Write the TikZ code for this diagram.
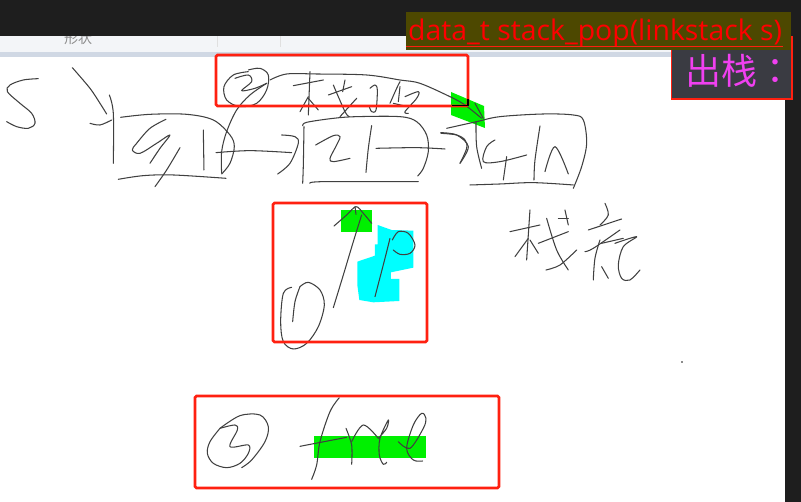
\documentclass[tikz,border=0pt]{standalone}
\usepackage{fontspec}
\setmainfont{Open Sans}
\newfontfamily\cjkfont{Noto Sans CJK JP}
\definecolor{barcol}{HTML}{1E1E1E}
\definecolor{toolcol}{HTML}{F3F5F8}
\definecolor{stripcol}{HTML}{D0D8E4}
\definecolor{olivecol}{HTML}{4D4800}
\definecolor{slatecol}{HTML}{3A3B42}
\definecolor{markred}{HTML}{FF2010}
\definecolor{pinkcol}{HTML}{F040F0}
\definecolor{greencol}{HTML}{00F000}
\definecolor{cyancol}{HTML}{00FFFF}
\usetikzlibrary{positioning}
\begin{document}
\begin{tikzpicture}[x=1pt, y=-1pt,
      ink/.style={draw=black!75, line width=1.05pt, line cap=round, line join=round},
      redbox/.style={draw=markred, line width=2.6pt, rounded corners=1.5pt},
      zoomed/.style={x=0.3333pt, y=-0.3333pt, shift={#1}}]
    \useasboundingbox (0,0) rectangle (801,502);
    \fill[white] (0,0) rectangle (801,502);
    % window
    \fill[toolcol] (0,36) rectangle (785,52);
    \fill[stripcol] (0,52) rectangle (785,57);
    \node[font=\cjkfont\fontsize{14}{14}\selectfont, text=black!45, inner sep=0pt, anchor=base west] (toollabel) at (64,44) {形状};
    \draw[black!12] (217,36) -- (217,47) (280,36) -- (280,47);
    \fill[barcol] (0,0) rectangle (801,36);
    \fill[barcol] (785,0) rectangle (801,502);
    \fill[black!45] (681,361) rectangle (683,363);
    % marker patches
    \fill[greencol] (451,92) -- (484,106) -- (485,128) -- (451,115) -- cycle;
    \fill[greencol] (341,210) rectangle (372,232);
    \fill[greencol] (314,436) rectangle (426,458);
    \begin{scope}[zoomed={(260pt,-195pt)}]
      \fill[cyancol] (353,90) -- (395,105) -- (460,107) -- (460,218) -- (393,232) -- (393,252) -- (418,252) -- (418,318) -- (340,322) -- (298,315) -- (292,270) -- (292,200) -- (345,182) -- (345,148) -- (353,148) -- cycle;
    \end{scope}
    % list, left part
    \begin{scope}[zoomed={(0pt,0pt)}]
      \foreach \stroke in {
        {(115,236) (70,240) (30,255) (22,275) (60,310) (95,340) (105,370) (85,385) (50,380) (20,365)},
        {(217,203) (270,265) (300,310) (320,342)},
        {(328,285) (340,340) (340,490)},
        {(270,370) (300,375) (335,360)},
        {(362,352) (450,343) (560,343) (640,360) (690,405) (703,440) (690,490) (665,522)},
        {(355,538) (430,527) (520,525) (678,535)},
        {(498,358) (450,385) (410,430) (397,450) (420,460) (470,430) (510,405) (480,445) (450,490)},
        {(540,443) (500,510) (465,560)},
        {(610,390) (612,510)},
        {(648,458) (750,452) (875,458)},
        {(845,405) (885,410) (895,430) (870,490) (833,522)},
        {(745,215) (700,225) (672,260) (680,300) (720,320) (770,310) (800,270) (805,225) (780,205) (745,210)},
        {(705,235) (745,225) (755,245) (725,272) (765,265) (800,250)},
        {(800,250) (750,285) (710,330) (680,395) (665,455) (665,520)},
        {(810,240) (860,222) (950,222) (1100,225) (1200,240) (1260,250) (1350,290) (1395,315) (1445,355)},
        {(1425,310) (1450,355)}}
        \draw[ink] plot[smooth, tension=0.55] coordinates \stroke;
    \end{scope}
    % list, middle and top writing
    \begin{scope}[zoomed={(290pt,-65pt)}]
      \foreach \stroke in {
        {(10,62) (100,45)}, {(60,20) (55,150)}, {(55,95) (30,140)}, {(55,100) (85,135)},
        {(115,90) (185,65)}, {(130,60) (165,140) (178,155)}, {(165,45) (158,80)}, {(200,100) (150,155)},
        {(240,70) (255,60) (262,75) (258,135) (245,140) (238,125)},
        {(300,115) (320,70) (330,50)}, {(330,65) (325,110)},
        {(345,95) (385,80) (380,100) (345,140) (355,145)}, {(310,115) (340,122)},
        {(38,182) (50,172) (130,160) (200,155) (330,155) (380,170) (410,210) (415,260) (400,310) (383,333)},
        {(42,185) (40,300) (38,355)}, {(60,355) (100,350) (385,350)},
        {(77,240) (130,212) (150,215) (140,240) (120,280) (130,290) (180,280)},
        {(245,182) (235,250) (228,322)}, {(258,250) (380,248) (465,252)},
        {(453,205) (500,210) (525,225) (530,250) (510,295)}}
        \draw[ink] plot[smooth, tension=0.55] coordinates \stroke;
    \end{scope}
    % list, right part
    \begin{scope}[zoomed={(400pt,0pt)}]
      \foreach \stroke in {
        {(140,385) (230,365) (300,350) (430,342) (520,345) (550,360) (560,430) (545,500) (520,565)},
        {(228,365) (230,440) (245,505)},
        {(122,398) (170,405) (205,440) (180,490)},
        {(285,420) (260,440) (250,485) (300,485) (380,465)}, {(320,470) (310,540)},
        {(420,378) (405,480) (402,540)}, {(435,515) (465,440) (505,522)},
        {(210,555) (300,552) (400,548) (520,555)}}
        \draw[ink] plot[smooth, tension=0.55] coordinates \stroke;
    \end{scope}
    % pointer p, circled one, bottom label
    \begin{scope}[zoomed={(260pt,-195pt)}]
      \foreach \stroke in {
        {(220,338) (250,240) (280,140) (305,60)},
        {(222,93) (260,60) (288,35) (310,55) (335,85)}, {(285,35) (288,58)},
        {(390,130) (375,190) (345,305)},
        {(397,135) (415,110) (445,115) (465,150) (450,175) (420,178) (400,165)},
        {(95,277) (70,295) (62,380) (70,440) (100,462) (140,445) (175,395) (193,330) (180,285) (145,262) (120,275)},
        {(120,275) (105,320) (98,380)},
        {(750,110) (840,90)}, {(810,45) (800,195)}, {(805,130) (765,185)}, {(810,135) (835,175)},
        {(860,70) (890,165) (925,225)}, {(835,145) (925,110)}, {(915,45) (925,90)},
        {(950,165) (900,210) (858,225)}, {(895,70) (925,70)},
        {(1035,25) (1045,60) (1020,90)}, {(985,105) (1085,72)},
        {(1080,105) (1000,160) (975,170)}, {(1020,135) (1005,190) (1000,255)}, {(1025,215) (1045,250)},
        {(1025,145) (1090,130)}, {(1065,145) (1130,125) (1090,155) (1075,210) (1085,250) (1110,255) (1140,225)}}
        \draw[ink] plot[smooth, tension=0.55] coordinates \stroke;
    \end{scope}
    \begin{scope}[zoomed={(180pt,-385pt)}]
      \foreach \stroke in {
        {(120,130) (180,92) (240,90) (265,125) (255,170) (215,225) (185,248)},
        {(120,130) (90,170) (82,205) (100,235) (140,248) (180,235) (205,205) (205,180) (150,185) (172,135) (165,120) (120,130)},
        {(478,38) (450,80) (420,170) (410,240) (395,283)}, {(360,184) (500,157)},
        {(498,130) (515,180) (515,238)}, {(515,170) (550,120) (595,160)},
        {(595,160) (620,130) (625,105) (600,160) (598,210) (610,238) (620,232)},
        {(655,170) (690,190) (730,130) (738,100) (725,85) (700,120) (680,190) (700,225) (728,228)}}
        \draw[ink] plot[smooth, tension=0.55] coordinates \stroke;
    \end{scope}
    % red frames
    \draw[redbox] (216,55) rectangle (468,106);
    \draw[redbox] (273,203) rectangle (427,342);
    \draw[redbox] (195,396) rectangle (499,488);
    \draw[black, line width=1.6pt] (452,105.5) -- (468,105.5) -- (468,99);
    % title boxes
    \fill[pinkcol] (700,98) rectangle (733,100.5);
    \fill[slatecol] (671,36) rectangle (792,99);
    \draw[markred, line width=1.6pt] (671.5,36) -- (671.5,99) -- (792,99) -- (792,36);
    \node[font=\cjkfont\fontsize{36}{36}\selectfont, text=pinkcol, inner sep=0pt, anchor=base west] (poptitle) at (685,85) {出栈：};
    \fill[olivecol] (406,12) rectangle (791,50);
    \node[font=\fontsize{28.4}{28.4}\selectfont, text=red, inner sep=0pt, anchor=base west] (popcode) at (408,41) {data\_t stack\_pop(linkstack s)};
    \coordinate (lineleft) at (406,46.5);
    \coordinate (lineright) at (783,46.5);
    \draw[markred, line width=1.5pt] (lineleft) -- (lineright);
  \end{tikzpicture}
\end{document}
